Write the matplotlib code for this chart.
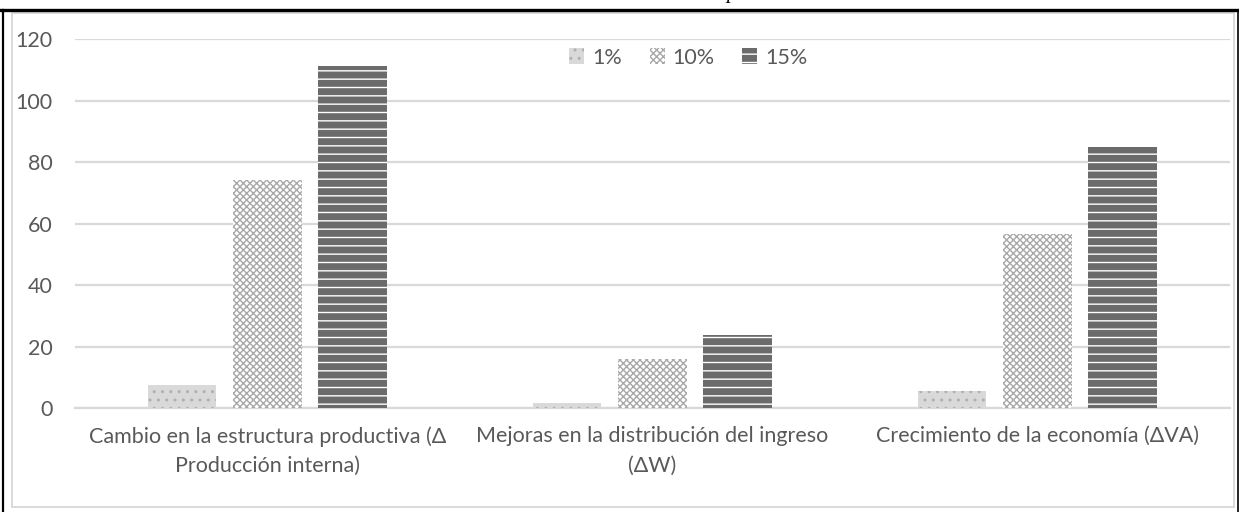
import numpy as np
import matplotlib
matplotlib.use("Agg")
import matplotlib.pyplot as plt
from matplotlib.lines import Line2D

# data
categories = ["Cambio en la estructura productiva (Δ\nProducción interna)",
              "Mejoras en la distribución del ingreso\n(ΔW)",
              "Crecimiento de la economía (ΔVA)"]
series_names = ["1%", "10%", "15%"]
vals_1 = [7.4, 1.6, 5.7]
vals_10 = [74.2, 15.9, 56.6]
vals_15 = [111.3, 23.8, 84.9]
y_ticks = [0, 20, 40, 60, 80, 100, 120]

TXT = "#595959"
GRID = "#d9d9d9"

plt.rcParams["font.family"] = ["Lato", "DejaVu Sans"]
plt.rcParams["hatch.linewidth"] = 1.0

fig = plt.figure(figsize=(12.39, 5.12), dpi=100)
ax = fig.add_axes([0.0605, 0.203, 0.9322, 0.7207])

x = np.arange(len(categories))
w = 0.177
step = 0.221
styles = [
    dict(facecolor="#d9d9d9", edgecolor="#b0b0b0", hatch=".."),
    dict(facecolor="white", edgecolor="#a8a8a8", hatch="xxxxx"),
    dict(facecolor="#6b6b6b", edgecolor="white", hatch="--"),
]
for i, (vals, st) in enumerate(zip([vals_1, vals_10, vals_15], styles)):
    ax.bar(x + (i - 1) * step, vals, width=w, linewidth=0,
           label=series_names[i], zorder=3, **st)

ax.set_xlim(-0.5, 2.5)
ax.set_ylim(0, 120)
ax.set_yticks(y_ticks)
ax.set_yticklabels([str(t) for t in y_ticks])
ax.set_xticks(x)
ax.set_xticklabels(categories, linespacing=1.6)
ax.tick_params(axis="y", length=0, pad=16, labelsize=15.5, labelcolor=TXT)
ax.tick_params(axis="x", length=0, pad=13, labelsize=15.5, labelcolor=TXT)
ax.grid(axis="y", color=GRID, linewidth=1.6, zorder=0)
for s in ["top", "right", "left"]:
    ax.spines[s].set_visible(False)
ax.spines["bottom"].set_color(GRID)
ax.spines["bottom"].set_linewidth(1.6)

leg = ax.legend(loc="center", bbox_to_anchor=(0.531, 0.95), ncol=3,
                frameon=False, fontsize=15.5, handlelength=0.7,
                handleheight=0.7, handletextpad=0.35, columnspacing=1.3)
for t in leg.get_texts():
    t.set_color(TXT)

# chart area border (grey) and the page frame lines around it
H, W = 512.0, 1239.0
def fl(x0, y0, x1, y1, c, lw):
    fig.add_artist(Line2D([x0 / W, x1 / W], [1 - y0 / H, 1 - y1 / H],
                          color=c, linewidth=lw, transform=fig.transFigure))
fl(12, 13, 1234, 13, GRID, 1.4)
fl(12, 13, 12, 507, GRID, 1.4)
fl(1234, 13, 1234, 507, GRID, 1.4)
fl(12, 507, 1234, 507, GRID, 1.4)
fl(0, 10, 1239, 10, "black", 2.4)
fl(3, 10, 3, 512, "black", 1.6)
fl(1238, 10, 1238, 512, "black", 1.2)

# cut-off caption text above the frame (only the descender shows)
fig.text(731 / W, 1 + 2.0 / H, "p", family="Liberation Serif", style="italic",
         fontsize=15, ha="center", va="baseline", color="black")

fig.savefig("out.png", dpi=100)
